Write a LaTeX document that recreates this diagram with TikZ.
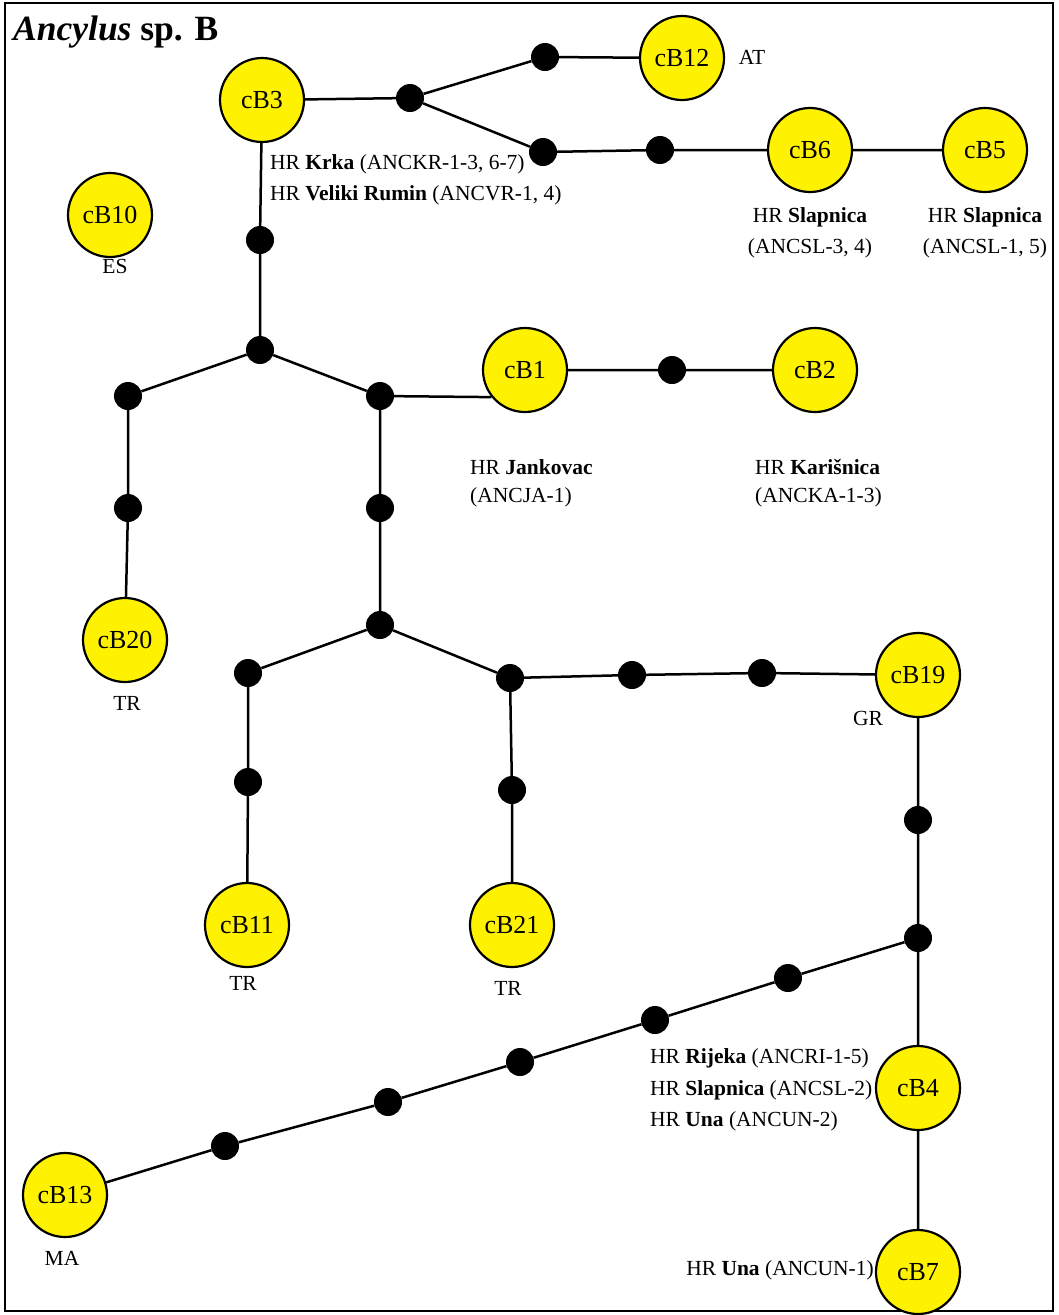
\documentclass[tikz,border=0pt]{standalone}
\usepackage{fontspec}
\setmainfont{Liberation Serif}
\begin{document}
\begin{tikzpicture}[x=1pt,y=-1pt,
  hap/.style={circle,draw=black,line width=2.2pt,fill=yellow,minimum size=84pt,inner sep=0pt,font=\fontsize{26}{28}\selectfont},
  dot/.style={circle,fill=black,minimum size=28pt,inner sep=0pt},
  lab/.style={font=\fontsize{21.5}{31}\selectfont,inner sep=0pt},
  edge/.style={line width=2.5pt}]
\useasboundingbox (0,0) rectangle (1059,1315);
\draw[line width=2.5pt] (5,3) rectangle (1053,1311);
\node[anchor=west,inner sep=0pt,font=\fontsize{35.5}{38}\selectfont\bfseries] (title) at (13,32) {\textit{Ancylus} sp. B};
% haplotypes
\node[hap] (cB3) at (262,100) {cB3};
\node[hap] (cB12) at (682,58) {cB12};
\node[hap] (cB6) at (810,150) {cB6};
\node[hap] (cB5) at (985,150) {cB5};
\node[hap] (cB10) at (110,215) {cB10};
\node[hap] (cB1) at (525,370) {cB1};
\node[hap] (cB2) at (815,370) {cB2};
\node[hap] (cB20) at (125,640) {cB20};
\node[hap] (cB19) at (918,675) {cB19};
\node[hap] (cB11) at (247,925) {cB11};
\node[hap] (cB21) at (512,925) {cB21};
\node[hap] (cB4) at (918,1088) {cB4};
\node[hap] (cB13) at (65,1195) {cB13};
\node[hap] (cB7) at (918,1272) {cB7};
% median vectors
\node[dot] (d1) at (410,98) {};
\node[dot] (d2) at (545,57) {};
\node[dot] (d3) at (543,152) {};
\node[dot] (d4) at (660,150) {};
\node[dot] (d5) at (260,240) {};
\node[dot] (d6) at (260,350) {};
\node[dot] (d7) at (128,396) {};
\node[dot] (d8) at (380,396) {};
\node[dot] (d9) at (128,508) {};
\node[dot] (d10) at (380,508) {};
\node[dot] (d11) at (672,370) {};
\node[dot] (d12) at (380,625) {};
\node[dot] (d13) at (248,673) {};
\node[dot] (d14) at (510,678) {};
\node[dot] (d15) at (632,675) {};
\node[dot] (d16) at (762,673) {};
\node[dot] (d17) at (248,782) {};
\node[dot] (d18) at (512,790) {};
\node[dot] (d19) at (918,820) {};
\node[dot] (d20) at (918,938) {};
\node[dot] (d21) at (788,978) {};
\node[dot] (d22) at (655,1020) {};
\node[dot] (d23) at (520,1062) {};
\node[dot] (d24) at (388,1102) {};
\node[dot] (d25) at (225,1146) {};
% edges
\draw[edge] (cB3)--(d1) (d1)--(d2) (d1)--(d3) (d2)--(cB12) (d3)--(d4) (d4)--(cB6) (cB6)--(cB5)
  (cB3)--(d5) (d5)--(d6) (d6)--(d7) (d6)--(d8) (d7)--(d9) (d9)--(cB20)
  (d8)--(cB1.219) (cB1)--(d11) (d11)--(cB2) (d8)--(d10) (d10)--(d12)
  (d12)--(d13) (d12)--(d14) (d13)--(d17) (d17)--(cB11) (d14)--(d18) (d18)--(cB21)
  (d14)--(d15) (d15)--(d16) (d16)--(cB19) (cB19)--(d19) (d19)--(d20) (d20)--(cB4) (cB4)--(cB7)
  (d20)--(d21) (d21)--(d22) (d22)--(d23) (d23)--(d24) (d24)--(d25) (d25)--(cB13);
% labels
\node[lab] (lAT) at (752,57) {AT};
\node[lab,anchor=west] (lKrka) at (270,164) {HR \textbf{Krka} (ANCKR-1-3, 6-7)};
\node[lab,anchor=west] (lVR) at (270,195) {HR \textbf{Veliki Rumin} (ANCVR-1, 4)};
\node[lab] (lES) at (115,266) {ES};
\node[lab] (lS6a) at (810,217) {HR \textbf{Slapnica}};
\node[lab] (lS6b) at (810,248) {(ANCSL-3, 4)};
\node[lab] (lS5a) at (985,217) {HR \textbf{Slapnica}};
\node[lab] (lS5b) at (985,248) {(ANCSL-1, 5)};
\node[lab,anchor=west] (lJa) at (470,467) {HR \textbf{Jankovac}};
\node[lab,anchor=west] (lJb) at (470,497) {(ANCJA-1)};
\node[lab,anchor=west] (lKa) at (755,467) {HR \textbf{Karišnica}};
\node[lab,anchor=west] (lKb) at (755,497) {(ANCKA-1-3)};
\node[lab] (lTR1) at (127,703) {TR};
\node[lab] (lGR) at (868,718) {GR};
\node[lab] (lTR2) at (243,983) {TR};
\node[lab] (lTR3) at (508,988) {TR};
\node[lab,anchor=west] (lR1) at (650,1058) {HR \textbf{Rijeka} (ANCRI-1-5)};
\node[lab,anchor=west] (lR2) at (650,1090) {HR \textbf{Slapnica} (ANCSL-2)};
\node[lab,anchor=west] (lR3) at (650,1121) {HR \textbf{Una} (ANCUN-2)};
\node[lab,anchor=east] (lU1) at (874,1270) {HR \textbf{Una} (ANCUN-1)};
\node[lab] (lMA) at (62,1258) {MA};
\end{tikzpicture}
\end{document}
